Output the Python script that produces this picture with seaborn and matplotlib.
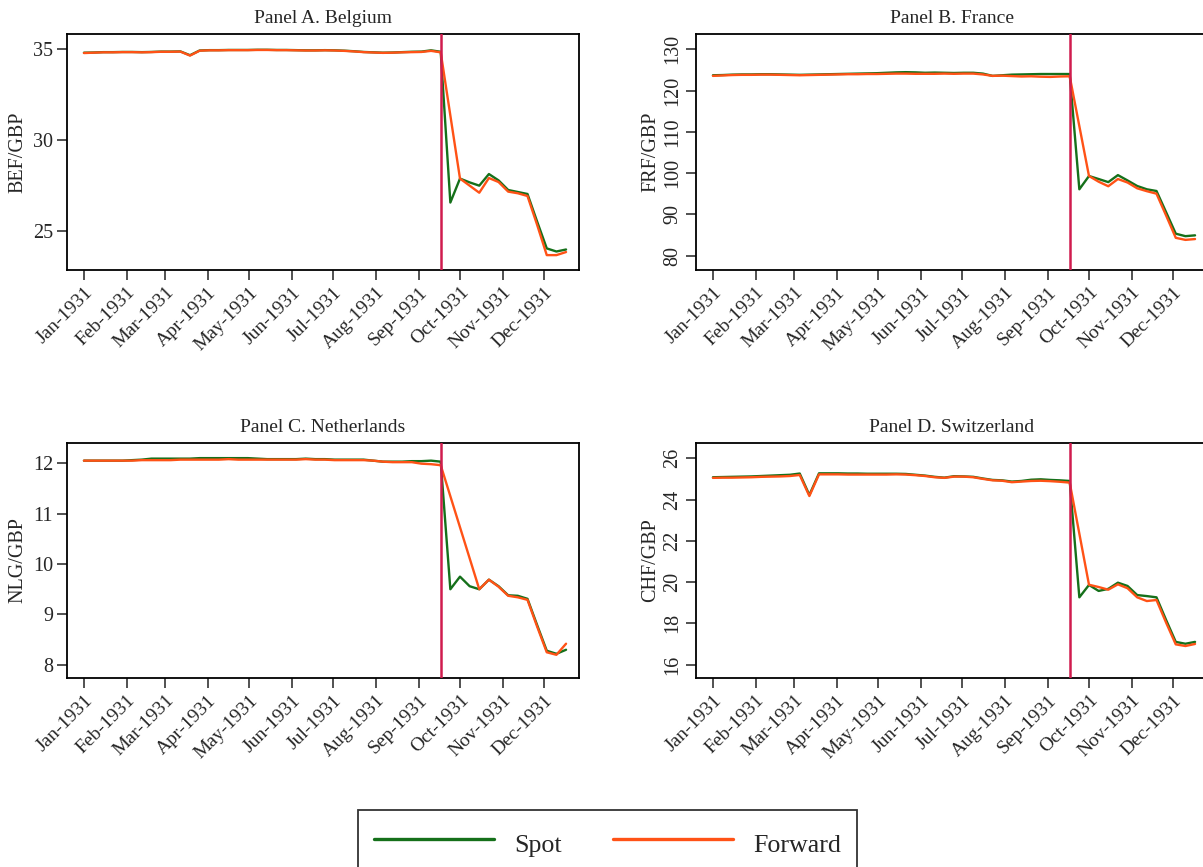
import numpy as np
import pandas as pd
import matplotlib
matplotlib.use("Agg")
import matplotlib.pyplot as plt
import seaborn as sns

# Weekly observations (Thursdays), 1 Jan 1931 - 17 Dec 1931
dates = pd.date_range("1931-01-01", "1931-12-17", freq="7D")
suspension_date = pd.Timestamp("1931-09-17")

nan = np.nan

# Belgium, BEF per GBP
bel_spot = [34.82, 34.83, 34.85, 34.85, 34.86,
            34.86, 34.85, 34.86, 34.88,
            34.88, 34.89, 34.68, 34.94,
            34.96, 34.96, 34.97, 34.97, 34.97,
            34.98, 34.98, 34.97, 34.97,
            34.96, 34.95, 34.95, 34.96,
            34.95, 34.93, 34.90, 34.86, 34.84,
            34.82, 34.83, 34.85, 34.87,
            34.88, 34.95, 34.87,
            26.56, 27.88, 27.67, 27.49, 28.13, 27.78, 27.25, 27.14, 27.03,
            25.51, 24.03, 23.86, 23.97]
bel_fwd = [34.80, 34.82, 34.84, 34.84, 34.85,
           34.85, 34.84, 34.85, 34.87,
           34.87, 34.88, 34.66, 34.93,
           34.95, 34.95, 34.96, 34.96, 34.96,
           34.97, 34.97, 34.96, 34.96,
           34.95, 34.94, 34.94, 34.95,
           34.94, 34.92, 34.89, 34.85, 34.83,
           34.81, 34.82, 34.84, 34.85,
           34.86, 34.92, 34.84,
           nan, 27.88, 27.49, 27.10, 27.91, 27.69, 27.16, 27.07, 26.92,
           25.33, 23.66, 23.66, 23.83]

# France, FRF per GBP
fra_spot = [123.70, 123.75, 123.85, 123.90, 123.90,
            123.95, 123.95, 123.90, 123.85,
            123.80, 123.85, 123.90, 123.95,
            124.00, 124.05, 124.10, 124.15, 124.20,
            124.30, 124.40, 124.45, 124.40,
            124.30, 124.35, 124.30, 124.25,
            124.30, 124.30, 124.10, 123.55, 123.70,
            123.85, 123.90, 123.95, 124.00,
            124.00, 124.00, 124.00,
            96.06, 99.28, 98.55, 97.80, 99.50, 98.20, 96.86, 96.06, 95.65,
            90.50, 85.30, 84.70, 84.90]
fra_fwd = [123.55, 123.65, 123.75, 123.80, 123.80,
           123.85, 123.85, 123.80, 123.75,
           123.70, 123.75, 123.80, 123.85,
           123.90, 123.95, 123.95, 124.00, 124.00,
           124.05, 124.10, 124.10, 124.05,
           124.05, 124.05, 124.10, 124.05,
           124.10, 124.10, 123.90, 123.55, 123.60,
           123.50, 123.40, 123.45, 123.35,
           123.30, 123.40, 123.45,
           nan, 99.28, 97.90, 96.80, 98.55, 97.70, 96.30, 95.60, 95.00,
           89.70, 84.30, 83.80, 84.00]

# Netherlands, NLG per GBP
nld_spot = [12.05, 12.05, 12.05, 12.05, 12.05,
            12.06, 12.07, 12.09, 12.09,
            12.09, 12.09, 12.09, 12.10,
            12.10, 12.10, 12.10, 12.10, 12.10,
            12.09, 12.08, 12.08, 12.08,
            12.08, 12.09, 12.08, 12.08,
            12.07, 12.07, 12.07, 12.07, 12.05,
            12.03, 12.03, 12.03, 12.04,
            12.04, 12.05, 12.03,
            9.50, 9.75, 9.56, 9.50, 9.69, 9.56, 9.38, 9.37, 9.31,
            8.79, 8.28, 8.22, 8.30]
nld_fwd = [12.05, 12.05, 12.05, 12.05, 12.05,
           12.05, 12.06, 12.06, 12.06,
           12.06, 12.07, 12.07, 12.07,
           12.07, 12.07, 12.08, 12.07, 12.07,
           12.07, 12.07, 12.07, 12.07,
           12.07, 12.08, 12.07, 12.07,
           12.06, 12.06, 12.06, 12.06, 12.05,
           12.03, 12.02, 12.02, 12.02,
           11.99, 11.98, 11.96,
           nan, nan, nan, 9.50, 9.69, 9.55, 9.37, 9.34, 9.29,
           8.76, 8.25, 8.20, 8.42]

# Switzerland, CHF per GBP
che_spot = [25.08, 25.09, 25.10, 25.11, 25.12,
            25.14, 25.16, 25.18, 25.20,
            25.26, 24.22, 25.27, 25.27,
            25.27, 25.26, 25.26, 25.25, 25.25,
            25.25, 25.25, 25.24, 25.20,
            25.16, 25.10, 25.06, 25.13,
            25.12, 25.10, 25.02, 24.95, 24.93,
            24.87, 24.90, 24.96, 24.98,
            24.95, 24.93, 24.90,
            19.26, 19.86, 19.57, 19.67, 19.97, 19.81, 19.37, 19.32, 19.26,
            18.16, 17.10, 17.01, 17.10]
che_fwd = [25.05, 25.06, 25.06, 25.07, 25.08,
           25.10, 25.11, 25.12, 25.14,
           25.19, 24.17, 25.22, 25.22,
           25.22, 25.21, 25.21, 25.21, 25.21,
           25.21, 25.22, 25.21, 25.18,
           25.14, 25.08, 25.05, 25.11,
           25.11, 25.08, 25.00, 24.93, 24.91,
           24.84, 24.87, 24.90, 24.91,
           24.89, 24.86, 24.82,
           nan, 19.87, 19.76, 19.63, 19.89, 19.70, 19.26, 19.08, 19.13,
           18.03, 16.98, 16.90, 17.00]

panel_titles = ["Panel A. Belgium", "Panel B. France",
                "Panel C. Netherlands", "Panel D. Switzerland"]
y_labels = ["BEF/GBP", "FRF/GBP", "NLG/GBP", "CHF/GBP"]
y_ticks = [[25, 30, 35],
           [80, 90, 100, 110, 120, 130],
           [8, 9, 10, 11, 12],
           [16, 18, 20, 22, 24, 26]]
y_limits = [(22.84, 35.85), (76.5, 133.7), (7.74, 12.40), (15.35, 26.74)]
spot_series = [bel_spot, fra_spot, nld_spot, che_spot]
fwd_series = [bel_fwd, fra_fwd, nld_fwd, che_fwd]

month_starts = pd.date_range("1931-01-01", periods=12, freq="MS")
month_labels = ["Jan-1931", "Feb-1931", "Mar-1931", "Apr-1931", "May-1931",
                "Jun-1931", "Jul-1931", "Aug-1931", "Sep-1931", "Oct-1931",
                "Nov-1931", "Dec-1931"]

SPOT_COLOR = "#15701a"
FWD_COLOR = "#ff5216"
EVENT_COLOR = "#d01c4e"

sns.set_theme(style="ticks")
plt.rcParams["font.family"] = ["Liberation Serif", "DejaVu Serif"]
plt.rcParams["axes.edgecolor"] = "black"
plt.rcParams["axes.linewidth"] = 1.3

W, H = 1203, 867
fig = plt.figure(figsize=(W / 100, H / 100), dpi=100)
fig.patch.set_facecolor("white")

# axes boxes in pixels: (left, top, right, bottom)
boxes = [(67, 34, 579, 270), (696, 34, 1208, 270),
         (67, 443, 579, 678), (696, 443, 1208, 678)]
rotated_yticks = [False, True, False, True]

x0 = pd.Timestamp("1931-01-01")
xlim = (x0 - pd.Timedelta(days=12.3), x0 + pd.Timedelta(days=359.4))

axes = []
for i, (l, t, r, b) in enumerate(boxes):
    ax = fig.add_axes([l / W, 1 - b / H, (r - l) / W, (b - t) / H])
    axes.append(ax)
    df = pd.DataFrame({
        "date": list(dates) * 2,
        "rate": list(spot_series[i]) + list(fwd_series[i]),
        "series": ["Spot"] * len(dates) + ["Forward"] * len(dates),
    })
    sns.lineplot(data=df, x="date", y="rate", hue="series",
                 hue_order=["Spot", "Forward"],
                 palette={"Spot": SPOT_COLOR, "Forward": FWD_COLOR},
                 estimator=None, linewidth=1.7, legend=False, ax=ax)
    ax.axvline(suspension_date, color=EVENT_COLOR, linewidth=1.8, zorder=3)

    ax.set_xlim(*xlim)
    ax.set_ylim(*y_limits[i])
    ax.set_xticks(month_starts)
    ax.set_xticklabels(month_labels, rotation=45, ha="right",
                       rotation_mode="anchor", fontsize=14)
    ax.set_yticks(y_ticks[i])
    ax.set_yticklabels([str(v) for v in y_ticks[i]], fontsize=14.5)
    if rotated_yticks[i]:
        plt.setp(ax.get_yticklabels(), rotation=90, va="center")
    ax.tick_params(axis="both", length=7, width=1.2, color="#333333",
                   direction="out", pad=3)
    ax.set_xlabel("")
    ax.set_ylabel(y_labels[i], fontsize=14.5,
                  labelpad=2 if rotated_yticks[i] else 4)
    ax.set_title(panel_titles[i], fontsize=14, pad=8)
    for s in ax.spines.values():
        s.set_visible(True)
        s.set_color("black")
    ax.grid(False)
    ax.set_facecolor("white")

# shared legend
handles = [plt.Line2D([], [], color=SPOT_COLOR, linewidth=2.4),
           plt.Line2D([], [], color=FWD_COLOR, linewidth=2.4)]
leg = fig.legend(handles, ["Spot", "Forward"], ncol=2,
                 loc="upper left", bbox_to_anchor=(358 / W, 1 - 810 / H),
                 fontsize=18.7, frameon=True, fancybox=False,
                 handlelength=4.65, handletextpad=0.77, columnspacing=1.95,
                 borderpad=0.6, handleheight=1.7, borderaxespad=0)
leg.get_frame().set_edgecolor("black")
leg.get_frame().set_linewidth(1.3)

fig.savefig("out.png", dpi=100, facecolor="white")
